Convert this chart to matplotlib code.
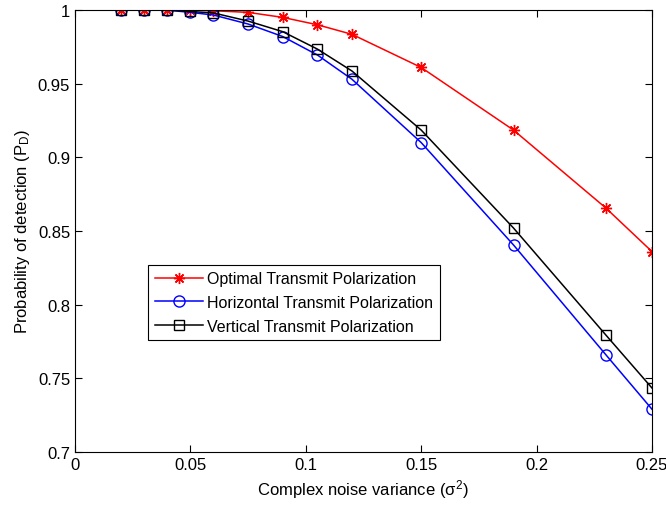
import matplotlib
matplotlib.use("Agg")
import matplotlib.pyplot as plt
from matplotlib import font_manager

x = [0.02, 0.03, 0.04, 0.05, 0.06, 0.075, 0.09, 0.105, 0.12, 0.15, 0.19, 0.23, 0.25]
optimal = [1.0, 1.0, 1.0, 1.0, 0.9995, 0.9984, 0.995, 0.990, 0.9835, 0.961, 0.9185, 0.8656, 0.836]
horizontal = [1.0, 1.0, 0.9999, 0.9984, 0.9966, 0.9905, 0.982, 0.9695, 0.953, 0.910, 0.8405, 0.766, 0.729]
vertical = [1.0, 1.0, 1.0, 0.999, 0.998, 0.9925, 0.9853, 0.9735, 0.9586, 0.9185, 0.852, 0.7794, 0.7434]
labels = ["Optimal Transmit Polarization", "Horizontal Transmit Polarization", "Vertical Transmit Polarization"]
xticks = [0, 0.05, 0.1, 0.15, 0.2, 0.25]
xticklabels = ["0", "0.05", "0.1", "0.15", "0.2", "0.25"]
yticks = [0.7, 0.75, 0.8, 0.85, 0.9, 0.95, 1.0]
yticklabels = ["0.7", "0.75", "0.8", "0.85", "0.9", "0.95", "1"]

names = {f.name for f in font_manager.fontManager.ttflist}
fam = "Liberation Sans Narrow" if "Liberation Sans Narrow" in names else "Liberation Sans"
plt.rcParams['font.family'] = [fam, 'DejaVu Sans']
plt.rcParams['mathtext.fontset'] = 'custom'
plt.rcParams['mathtext.rm'] = fam
plt.rcParams['mathtext.it'] = fam

fig = plt.figure(figsize=(6.66, 5.10), dpi=100)
ax = fig.add_axes([0.1126, 0.1118, 0.8664, 0.8666])

ax.plot(x, optimal, color='#ff0000', lw=1.1, marker=(8, 2, 0), ms=8, mew=1.0, label=labels[0])
ax.plot(x, horizontal, color='#0000ff', lw=1.1, marker='o', ms=8, mfc='none', mew=1.0, label=labels[1])
ax.plot(x, vertical, color='#000000', lw=1.1, marker='s', ms=7, mfc='none', mew=1.0, label=labels[2])

ax.set_xlim(0, 0.25)
ax.set_ylim(0.7, 1.0)
ax.set_xticks(xticks)
ax.set_xticklabels(xticklabels)
ax.set_yticks(yticks)
ax.set_yticklabels(yticklabels)
ax.tick_params(direction='in', top=True, right=True, labelsize=12, length=5, width=0.8)
for s in ax.spines.values():
    s.set_linewidth(0.8)

ax.set_xlabel(r"Complex noise variance ($\sigma^2$)", fontsize=12)
ax.set_ylabel(r"Probability of detection (P$_{\mathrm{D}}$)", fontsize=12)

leg = ax.legend(loc='lower left', bbox_to_anchor=(0.127, 0.253), fontsize=11.5,
                frameon=True, fancybox=False, edgecolor='black', framealpha=1,
                handlelength=3.0, borderpad=0.4, labelspacing=0.55, handletextpad=0.3, borderaxespad=0)
leg.get_frame().set_linewidth(0.8)

fig.savefig("out.png", dpi=100)
